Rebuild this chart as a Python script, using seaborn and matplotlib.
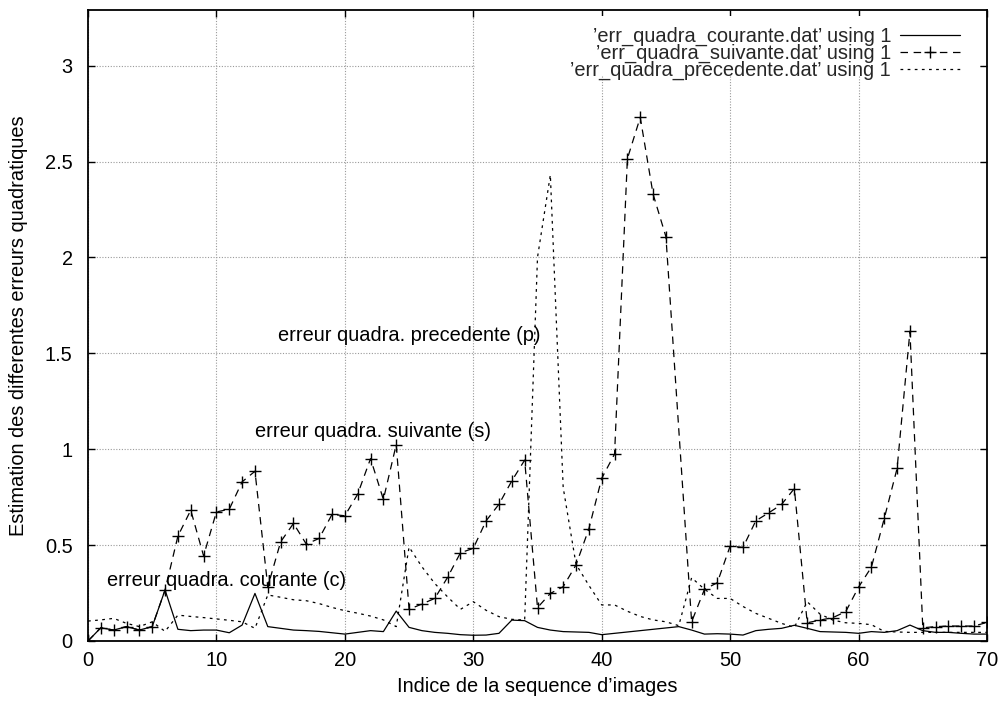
import matplotlib
matplotlib.use("Agg")
import matplotlib.pyplot as plt
import numpy as np
import pandas as pd
import seaborn as sns
from matplotlib.patches import Rectangle

# Squared-error estimates per image of the sequence (index 0..70)
courante = [0.0, 0.069, 0.057, 0.075, 0.057, 0.075, 0.266, 0.061, 0.054, 0.057,
            0.057, 0.043, 0.083, 0.248, 0.075, 0.066, 0.057, 0.054, 0.050, 0.043,
            0.036, 0.045, 0.054, 0.049, 0.156, 0.071, 0.054, 0.045, 0.040, 0.033,
            0.030, 0.031, 0.040, 0.109, 0.106, 0.071, 0.057, 0.049, 0.047, 0.045,
            0.033, 0.040, 0.047, 0.054, 0.061, 0.068, 0.075, 0.057, 0.036, 0.038,
            0.036, 0.031, 0.054, 0.061, 0.066, 0.082, 0.066, 0.049, 0.047, 0.045,
            0.040, 0.049, 0.045, 0.054, 0.083, 0.054, 0.045, 0.045, 0.040, 0.036,
            0.036]

suivante = [0.0, 0.069, 0.057, 0.075, 0.057, 0.075, 0.266, 0.547, 0.682, 0.444,
            0.673, 0.687, 0.830, 0.885, 0.283, 0.517, 0.613, 0.505, 0.535, 0.660,
            0.653, 0.766, 0.951, 0.738, 1.024, 0.165, 0.193, 0.222, 0.332, 0.460,
            0.483, 0.627, 0.713, 0.835, 0.943, 0.174, 0.248, 0.283, 0.397, 0.585,
            0.848, 0.975, 2.515, 2.730, 2.330, 2.108, None, 0.100, 0.269, 0.304,
            0.495, 0.488, 0.627, 0.668, 0.712, 0.795, 0.095, 0.109, 0.122, 0.153,
            0.281, 0.385, 0.639, 0.900, 1.615, 0.069, 0.075, 0.078, 0.078, 0.078,
            0.097]

precedente = [0.104, 0.110, 0.118, 0.092, 0.075, 0.100, 0.050, 0.135, 0.128, 0.122,
              0.115, 0.108, 0.100, 0.066, 0.240, 0.228, 0.215, 0.210, 0.195, 0.175,
              0.158, 0.145, 0.130, 0.110, 0.075, 0.490, 0.387, 0.300, 0.230, 0.165,
              0.205, 0.160, 0.127, 0.113, 0.109, 2.000, 2.430, 0.800, 0.400, 0.290,
              0.188, 0.188, 0.155, 0.128, 0.110, 0.100, 0.080, 0.330, 0.270, 0.222,
              0.222, 0.180, 0.144, 0.118, 0.092, 0.071, 0.205, 0.140, 0.109, 0.095,
              0.092, 0.085, 0.050, 0.047, 0.045, 0.045, 0.045, 0.045, 0.045, 0.045,
              0.045]

indices = list(range(len(courante)))

x_ticks = [0, 10, 20, 30, 40, 50, 60, 70]
y_ticks = [0, 0.5, 1, 1.5, 2, 2.5, 3]
y_tick_labels = ["0", "0.5", "1", "1.5", "2", "2.5", "3"]

labels = ["\u2019err_quadra_courante.dat\u2019 using 1",
          "\u2019err_quadra_suivante.dat\u2019 using 1",
          "\u2019err_quadra_precedente.dat\u2019 using 1"]

sns.set_theme(style="ticks")
plt.rcParams["font.family"] = ["Liberation Sans", "DejaVu Sans"]
FS = 14.4

fig, ax = plt.subplots(figsize=(9.99, 7.04), dpi=100)
fig.subplots_adjust(left=88 / 999, right=987 / 999, bottom=63 / 704, top=694 / 704)
ax.set_facecolor("white")
ax.set_axisbelow(True)

df_c = pd.DataFrame({"i": indices, "err": courante})
df_s = pd.DataFrame({"i": indices, "err": suivante}).dropna()
df_p = pd.DataFrame({"i": indices, "err": precedente})

sns.lineplot(data=df_c, x="i", y="err", ax=ax, color="black", linewidth=0.9,
             estimator=None, label=labels[0], zorder=3)
sns.lineplot(data=df_s, x="i", y="err", ax=ax, color="black", linewidth=0.9,
             linestyle=(0, (6, 4.5)), marker="+", markersize=8,
             markeredgewidth=1.0, markeredgecolor="black",
             estimator=None, label=labels[1], zorder=3)
sns.lineplot(data=df_p, x="i", y="err", ax=ax, color="black", linewidth=0.9,
             linestyle=(0, (2.2, 3.5)), estimator=None, label=labels[2], zorder=3)

ax.set_xlim(0, 70)
ax.set_ylim(0, 3.29)
ax.set_xticks(x_ticks)
ax.set_xticklabels([str(v) for v in x_ticks])
ax.set_yticks(y_ticks)
ax.set_yticklabels(y_tick_labels)

ax.grid(True, color="#9a9a9a", linestyle=(0, (1, 1.5)), linewidth=0.8)
ax.tick_params(axis="both", which="major", direction="in", length=5, width=1.0,
               top=True, right=True, labelsize=FS, colors="black")
ax.tick_params(axis="x", pad=7)
ax.tick_params(axis="y", pad=11)
for side in ["left", "right", "top", "bottom"]:
    ax.spines[side].set_visible(True)
    ax.spines[side].set_color("black")
    ax.spines[side].set_linewidth(1.3)

ax.set_xlabel("Indice de la sequence d\u2019images", fontsize=FS, color="black", labelpad=5)
ax.set_ylabel("Estimation des differentes erreurs quadratiques", fontsize=FS,
              color="black", labelpad=12)

# blank key area over the grid (below the data lines, above the grid)
ax.add_patch(Rectangle((0.43, 0.897), 0.992 - 0.43, 0.99 - 0.897,
                       transform=ax.transAxes, facecolor="white",
                       edgecolor="none", zorder=2))

leg = ax.legend(loc="upper right", bbox_to_anchor=(0.970, 0.973), frameon=False,
                markerfirst=False, fontsize=FS, handlelength=3.0,
                handletextpad=0.45, labelspacing=-0.115, borderpad=0,
                borderaxespad=0)
for line in leg.get_lines():
    line.set_linewidth(0.9)

ax.text(1.5, 0.318, "erreur quadra. courante (c)", fontsize=FS, ha="left",
        va="center", color="black", zorder=4)
ax.text(13.0, 1.09, "erreur quadra. suivante (s)", fontsize=FS, ha="left",
        va="center", color="black", zorder=4)
ax.text(14.8, 1.594, "erreur quadra. precedente (p)", fontsize=FS, ha="left",
        va="center", color="black", zorder=4)

fig.savefig("out.png", dpi=100, facecolor="white")
